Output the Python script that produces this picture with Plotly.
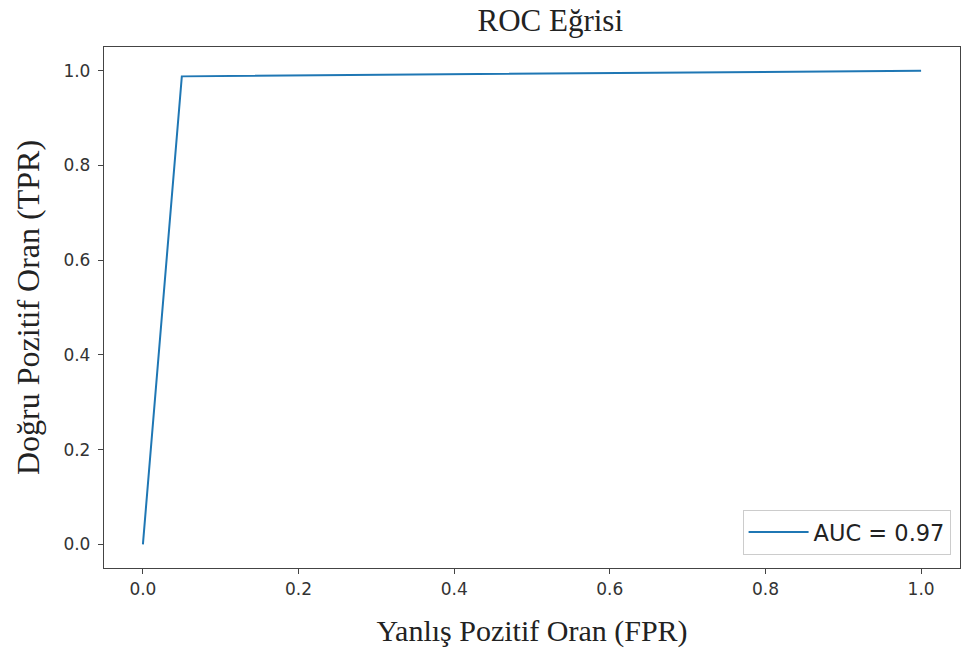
import plotly.graph_objects as go

fpr = [0.0, 0.05, 1.0]
tpr = [0.0, 0.988, 1.0]
legend_label = "AUC = 0.97"
title_text = "ROC Eğrisi"
x_title = "Yanlış Pozitif Oran (FPR)"
y_title = "Doğru Pozitif Oran (TPR)"
tick_vals = [0.0, 0.2, 0.4, 0.6, 0.8, 1.0]
tick_text = ["0.0", "0.2", "0.4", "0.6", "0.8", "1.0"]

serif = "Liberation Serif, Times New Roman, serif"
sans = "DejaVu Sans, sans-serif"

fig = go.Figure()
fig.add_trace(go.Scatter(x=fpr, y=tpr, mode="lines", name=legend_label,
                         line=dict(color="#1f77b4", width=2)))

axis_common = dict(
    showgrid=False, zeroline=False, showline=True, mirror=True,
    linecolor="#444444", linewidth=1.3,
    ticks="outside", ticklen=5, tickwidth=1.2, tickcolor="#444444",
    tickvals=tick_vals, ticktext=tick_text,
    tickfont=dict(family=sans, size=17, color="#333333"),
)

fig.update_layout(
    width=962, height=658,
    margin=dict(l=104, r=2, t=47, b=90),
    paper_bgcolor="white", plot_bgcolor="white",
    title=dict(text=title_text, x=0.572, xanchor="center", y=1 - 20 / 658,
               yanchor="middle", yref="container",
               font=dict(family=serif, size=31, color="#222222")),
    xaxis=dict(range=[-0.05, 1.05],
               title=dict(text=x_title, standoff=22,
                          font=dict(family=serif, size=30, color="#222222")),
               **axis_common),
    yaxis=dict(range=[-0.05, 1.05], ticklabelstandoff=4,
               title=dict(text=y_title, standoff=14,
                          font=dict(family=serif, size=32, color="#222222")),
               **axis_common),
    legend=dict(x=0.989, y=0.025, xanchor="right", yanchor="bottom",
                bgcolor="white", bordercolor="#cccccc", borderwidth=1,
                itemwidth=60,
                font=dict(family=sans, size=22.5, color="#222222")),
    showlegend=True,
)

fig.write_html("out.html")
